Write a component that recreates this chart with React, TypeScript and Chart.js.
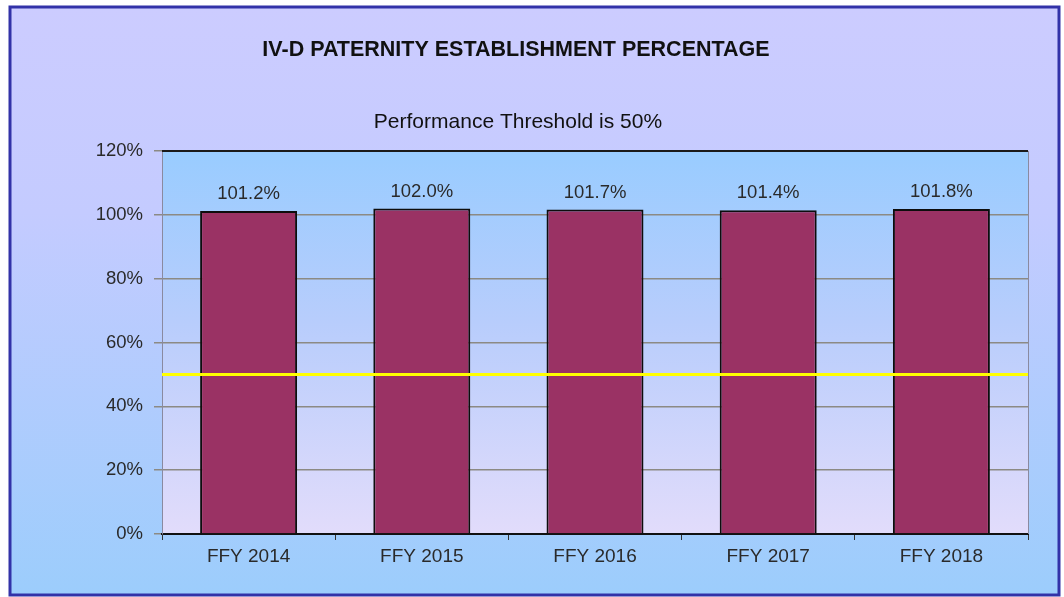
import React, { useEffect, useRef } from "react";
import { Chart, registerables } from "chart.js";

Chart.register(...registerables);

const categories = ["FFY 2014", "FFY 2015", "FFY 2016", "FFY 2017", "FFY 2018"];
const percentages = [101.2, 102.0, 101.7, 101.4, 101.8];
const valueLabels = ["101.2%", "102.0%", "101.7%", "101.4%", "101.8%"];
const threshold = 50;
const yTicks = [0, 20, 40, 60, 80, 100, 120];
const titleText = "IV-D PATERNITY ESTABLISHMENT PERCENTAGE";
const subtitleText = "Performance Threshold is 50%";

const FONT = "'Liberation Sans', Arial, sans-serif";

const backgroundPlugin = {
  id: "bgFrame",
  beforeDraw(chart: any) {
    const { ctx, width, height, chartArea } = chart;
    ctx.save();
    ctx.fillStyle = "#ffffff";
    ctx.fillRect(0, 0, width, height);
    const fx = 10, fy = 7, fw = 1049, fh = 588;
    const g = ctx.createLinearGradient(0, fy, 0, fy + fh);
    g.addColorStop(0, "#ccccff");
    g.addColorStop(0.35, "#c4cbff");
    g.addColorStop(1, "#9ccdfc");
    ctx.fillStyle = g;
    ctx.fillRect(fx, fy, fw, fh);
    ctx.lineWidth = 3;
    ctx.strokeStyle = "#3232a8";
    ctx.strokeRect(fx, fy, fw, fh);
    const pg = ctx.createLinearGradient(0, chartArea.top, 0, chartArea.bottom);
    pg.addColorStop(0, "#99ccff");
    pg.addColorStop(0.45, "#b8cdfc");
    pg.addColorStop(1, "#e2dcfb");
    ctx.fillStyle = pg;
    ctx.fillRect(chartArea.left, chartArea.top, chartArea.right - chartArea.left, chartArea.bottom - chartArea.top);
    ctx.fillStyle = "#111111";
    ctx.textAlign = "center";
    ctx.textBaseline = "middle";
    ctx.font = `bold 21.5px ${FONT}`;
    ctx.fillText(titleText, 516, 50);
    ctx.font = `21px ${FONT}`;
    ctx.fillText(subtitleText, 518, 122);
    ctx.restore();
  },
  afterDatasetsDraw(chart: any) {
    const { ctx, chartArea, scales } = chart;
    ctx.save();
    ctx.strokeStyle = "#8a8aa0";
    ctx.lineWidth = 1;
    ctx.beginPath();
    ctx.moveTo(chartArea.right + 0.5, chartArea.top);
    ctx.lineTo(chartArea.right + 0.5, chartArea.bottom);
    ctx.stroke();
    ctx.strokeStyle = "#1a1a1a";
    ctx.lineWidth = 2;
    ctx.beginPath();
    ctx.moveTo(chartArea.left, chartArea.top);
    ctx.lineTo(chartArea.right, chartArea.top);
    ctx.stroke();
    const y = scales.y.getPixelForValue(threshold);
    ctx.strokeStyle = "#ffff00";
    ctx.lineWidth = 3;
    ctx.beginPath();
    ctx.moveTo(chartArea.left, y);
    ctx.lineTo(chartArea.right, y);
    ctx.stroke();
    const meta = chart.getDatasetMeta(0);
    ctx.fillStyle = "#2a2a2a";
    ctx.font = `18.5px ${FONT}`;
    ctx.textAlign = "center";
    ctx.textBaseline = "middle";
    meta.data.forEach((bar: any, i: number) => {
      ctx.fillText(valueLabels[i], bar.x, bar.y - 17);
    });
    ctx.restore();
  },
};

export default function App() {
  const canvasRef = useRef<HTMLCanvasElement | null>(null);

  useEffect(() => {
    if (!canvasRef.current) return;
    const chart = new Chart(canvasRef.current, {
      type: "bar",
      data: {
        labels: categories,
        datasets: [
          {
            label: "Paternity Establishment",
            data: percentages,
            backgroundColor: "#9a3264",
            borderColor: "#0d0d0d",
            borderWidth: 2,
            barPercentage: 0.56,
            categoryPercentage: 1,
          },
        ],
      },
      options: {
        animation: false,
        responsive: true,
        maintainAspectRatio: false,
        layout: { padding: { left: 28, right: 36, top: 151, bottom: 0 } },
        plugins: {
          legend: { display: false },
          tooltip: { enabled: false },
          title: { display: false },
          subtitle: { display: false },
        },
        scales: {
          x: {
            offset: true,
            grid: {
              display: true,
              drawOnChartArea: false,
              offset: true,
              tickLength: 6,
              color: "#333333",
            },
            border: { display: true, color: "#111111", width: 2 },
            ticks: {
              color: "#2a2a2a",
              font: { family: FONT, size: 19 },
              padding: 5,
            },
            afterFit(scale: any) {
              scale.height = 63;
            },
          },
          y: {
            min: 0,
            max: 120,
            afterBuildTicks(scale: any) {
              scale.ticks = yTicks.map((v) => ({ value: v }));
            },
            grid: {
              color: "#8c8a84",
              lineWidth: 1.5,
              tickLength: 8,
            },
            border: { display: true, color: "#8a8aa0", width: 1 },
            ticks: {
              color: "#2a2a2a",
              font: { family: FONT, size: 18.5 },
              padding: 11,
              callback: (v: any) => `${v}%`,
            },
            afterFit(scale: any) {
              scale.width = 134;
            },
          },
        },
      },
      plugins: [backgroundPlugin],
    });
    return () => chart.destroy();
  }, []);

  return (
    <div style={{ position: "fixed", left: 0, top: 0, width: 1064, height: 597 }}>
      <canvas ref={canvasRef} />
    </div>
  );
}
